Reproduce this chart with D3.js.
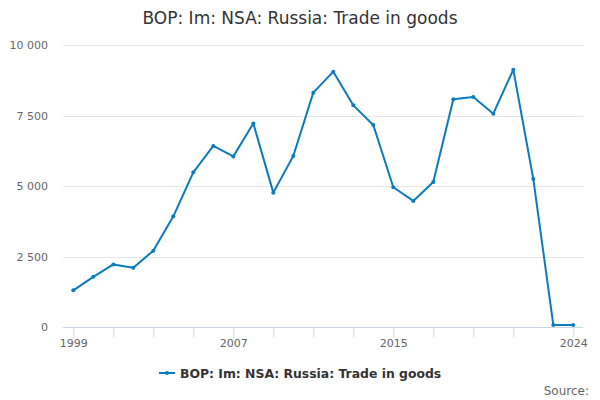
<!DOCTYPE html>
<html lang="en">
<head>
    <meta charset="UTF-8">
    <title>BOP: Im: NSA: Russia: Trade in goods</title>
    <script src="https://d3js.org/d3.v7.min.js"></script>
    <style>
        body {
            margin: 0;
            padding: 0;
            background: white;
            font-family: 'DejaVu Sans', sans-serif;
        }
        svg {
            display: block;
        }
    </style>
</head>
<body>
    <svg id="chart" width="600" height="400"></svg>

    <script>
        // data
        const years = [1999, 2000, 2001, 2002, 2003, 2004, 2005, 2006, 2007, 2008, 2009, 2010, 2011,
                       2012, 2013, 2014, 2015, 2016, 2017, 2018, 2019, 2020, 2021, 2022, 2023, 2024];
        const values = [1300, 1780, 2220, 2105, 2705, 3925, 5485, 6420, 6050, 7220, 4765, 6065, 8310,
                        9055, 7860, 7165, 4955, 4470, 5145, 8075, 8155, 7565, 9125, 5250, 75, 75];
        const yTicks = [0, 2500, 5000, 7500, 10000];
        const xTicks = [1999, 2001, 2003, 2005, 2007, 2009, 2011, 2013, 2015, 2017, 2019, 2021, 2024];
        const xLabels = [1999, 2007, 2015, 2024];
        const seriesName = "BOP: Im: NSA: Russia: Trade in goods";
        const lineColor = "#0a7bbd";

        const data = years.map((yr, i) => ({ year: yr, value: values[i] }));

        const svg = d3.select("#chart");
        const plotLeft = 63, plotRight = 583, plotTop = 45, plotBottom = 327;

        const x = d3.scaleLinear()
            .domain([1999, 2024])
            .range([73.3, 573.3]);

        const y = d3.scaleLinear()
            .domain([0, 10000])
            .range([plotBottom, plotTop]);

        const fmt = d => d3.format(",")(d).replace(/,/g, " ");

        // gridlines
        svg.append("g")
            .selectAll("line")
            .data(yTicks.filter(d => d > 0))
            .enter()
            .append("line")
            .attr("x1", plotLeft)
            .attr("x2", plotRight)
            .attr("y1", d => Math.round(y(d)) + 0.5)
            .attr("y2", d => Math.round(y(d)) + 0.5)
            .attr("stroke", "#e6e6e6")
            .attr("stroke-width", 1);

        // y labels
        svg.append("g")
            .selectAll("text")
            .data(yTicks)
            .enter()
            .append("text")
            .attr("x", 48)
            .attr("y", d => y(d) + 4)
            .attr("text-anchor", "end")
            .attr("font-size", "11px")
            .attr("fill", "#666666")
            .text(fmt);

        // x axis
        const xAxis = d3.axisBottom(x)
            .tickValues(xTicks)
            .tickSize(10)
            .tickFormat(d => xLabels.includes(d) ? d : "");

        const gx = svg.append("g")
            .attr("transform", `translate(0,${plotBottom + 0.5})`)
            .call(xAxis);
        gx.select(".domain").remove();
        gx.selectAll(".tick line").attr("stroke", "#ccd6eb");
        gx.selectAll(".tick text")
            .attr("y", 12)
            .attr("font-family", "'DejaVu Sans', sans-serif")
            .attr("font-size", "11px")
            .attr("fill", "#666666");
        svg.append("line")
            .attr("x1", plotLeft)
            .attr("x2", plotRight)
            .attr("y1", plotBottom + 0.5)
            .attr("y2", plotBottom + 0.5)
            .attr("stroke", "#ccd6eb");

        // series line
        const line = d3.line()
            .x(d => x(d.year))
            .y(d => y(d.value));

        svg.append("path")
            .datum(data)
            .attr("d", line)
            .attr("fill", "none")
            .attr("stroke", lineColor)
            .attr("stroke-width", 2)
            .attr("stroke-linejoin", "round");

        svg.selectAll(".dot")
            .data(data)
            .enter()
            .append("circle")
            .attr("class", "dot")
            .attr("cx", d => x(d.year))
            .attr("cy", d => y(d.value))
            .attr("r", 2)
            .attr("fill", lineColor);

        // title
        svg.append("text")
            .attr("x", 300)
            .attr("y", 24)
            .attr("text-anchor", "middle")
            .attr("font-size", "17px")
            .attr("fill", "#333333")
            .text(seriesName);

        // legend
        const legend = svg.append("g").attr("transform", "translate(159,373)");
        legend.append("line")
            .attr("x1", 0).attr("x2", 16)
            .attr("y1", 0).attr("y2", 0)
            .attr("stroke", lineColor)
            .attr("stroke-width", 2);
        legend.append("circle")
            .attr("cx", 8).attr("cy", 0).attr("r", 2)
            .attr("fill", lineColor);
        legend.append("text")
            .attr("x", 21)
            .attr("y", 5)
            .attr("font-size", "12.4px")
            .attr("font-weight", "bold")
            .attr("fill", "#333333")
            .text(seriesName);

        // source
        svg.append("text")
            .attr("x", 589)
            .attr("y", 395)
            .attr("text-anchor", "end")
            .attr("font-size", "12px")
            .attr("fill", "#666666")
            .text("Source:");
    </script>
</body>
</html>
